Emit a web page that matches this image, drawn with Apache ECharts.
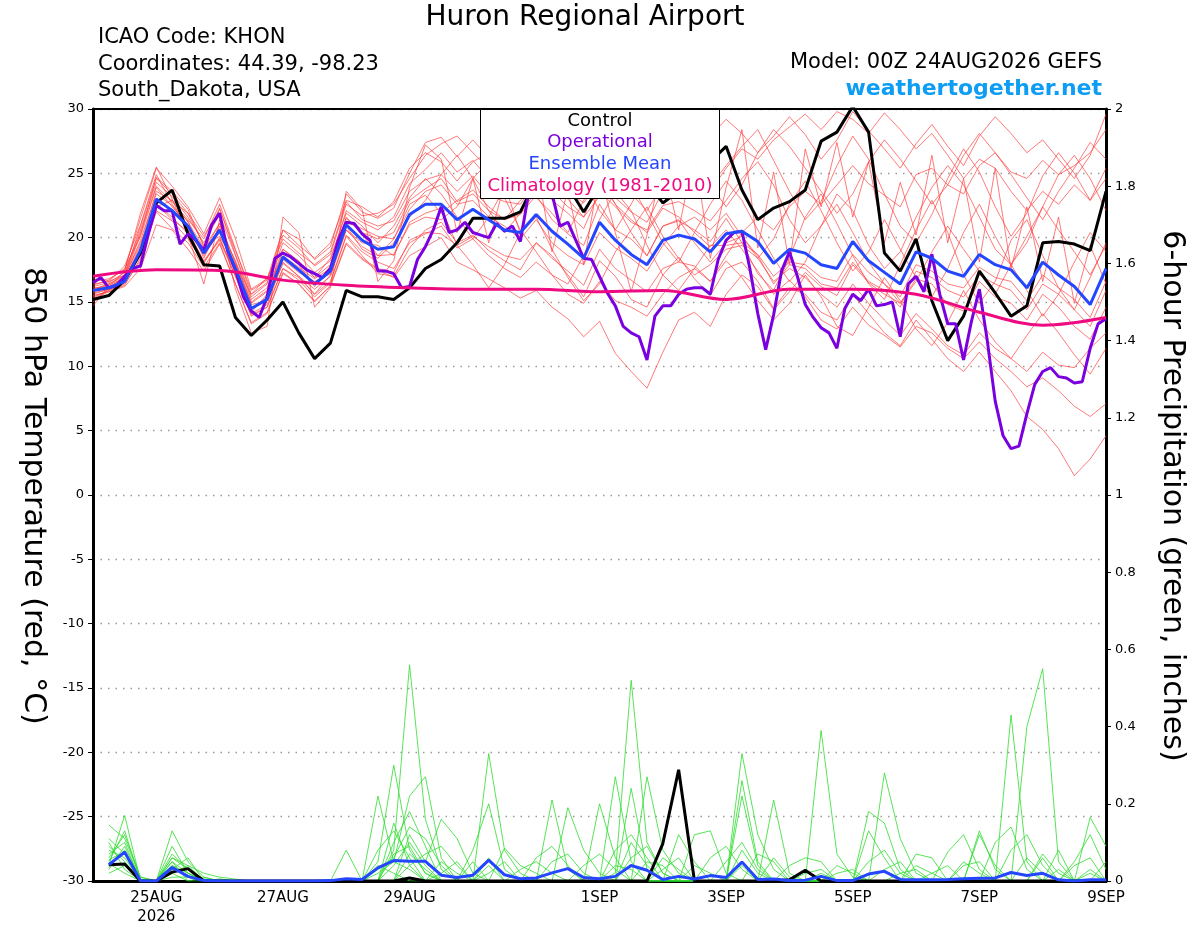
<!DOCTYPE html>
<html><head><meta charset="utf-8">
<script src="https://cdn.jsdelivr.net/npm/echarts@6.0.0/dist/echarts.min.js"></script>
<style>html,body{margin:0;padding:0;background:#fff}#c{width:1200px;height:927px}</style>
</head><body><div id="c"></div>
<script>
// ---- data (hours after 00Z 24AUG2026) ----
const STEP = 6, OP_STEP = 3, CLIM_STEP = 24;
const tickHours = [24, 72, 120, 192, 240, 288, 336, 384];
const tickLabels = ['25AUG\n2026', '27AUG', '29AUG', '1SEP', '3SEP', '5SEP', '7SEP', '9SEP'];

const controlTemp = [15.2,15.5,16.7,18.8,22.7, 23.7,20.3,17.9,17.8,13.8, 12.4,13.6,15.0,12.6,10.6, 11.8,15.9,15.4,15.4,15.2, 16.1,17.6,18.3,19.6,21.5, 21.5,21.5,22.0,24.5,25.5, 24.0,22.0,24.0,24.8,25.2, 24.3,22.7,23.6,24.6,25.9, 27.1,23.7,21.4,22.3,22.8, 23.7,27.5,28.2,30.2,28.2, 18.8,17.4,19.9,15.1,12.0, 13.9,17.4,15.7,13.9,14.7, 19.6,19.7,19.5,19.0,23.6];
const meanTemp = [15.9,16.1,16.6,19.0,23.0, 22.1,20.9,18.8,20.6,17.6, 14.5,15.2,18.5,17.5,16.4, 17.4,21.0,19.8,19.1,19.3, 21.8,22.6,22.6,21.4,22.2, 21.4,20.6,20.4,21.8,20.5, 19.5,18.4,21.2,19.8,18.7, 17.9,19.8,20.2,19.9,18.9, 20.3,20.5,19.7,18.0,19.1, 18.8,17.9,17.6,19.7,18.2, 17.3,16.4,18.9,18.4,17.4, 17.0,18.7,17.9,17.5,16.1, 18.1,17.1,16.2,14.8,17.6];
const opTemp = [16.5,16.9,16.1,16.3,17.0,17.6,17.8,20.3,22.5,22.1,
 22.1,19.5,20.3,19.8,19.0,21.0,21.9,19.0,17.5,15.4,
 14.3,13.8,15.4,18.4,18.8,18.5,18.0,17.5,17.2,16.9,
 17.6,19.8,21.2,21.1,20.3,19.8,17.4,17.4,17.2,16.1,
 16.2,18.3,19.3,20.6,22.4,20.4,20.6,21.2,20.4,20.2,
 20.0,21.1,20.5,20.9,19.7,23.3,24.6,25.2,23.4,20.9,
 21.2,19.8,18.4,18.3,17.0,15.7,14.7,13.1,12.6,12.3,
 10.5,13.9,14.7,14.7,15.6,16.0,16.1,16.1,15.6,18.3,
 19.8,20.4,20.5,17.6,14.1,11.3,14.0,17.4,18.9,17.0,
 14.8,13.8,13.0,12.6,11.4,14.5,15.6,15.1,16.0,14.7,
 14.8,15.0,12.3,16.4,17.0,15.8,18.7,15.6,13.3,13.3,
 10.5,13.5,16.0,12.0,7.3,4.6,3.6,3.8,6.3,8.6,
 9.6,9.9,9.2,9.1,8.7,8.8,11.4,13.3,13.7];
const climTemp = [17.0,17.5,17.45,16.7,16.3,16.1,16.0,16.0,15.8,15.9,15.2,16.0,16.0,15.6,14.2,13.2,13.8];

const tempMembers = [
 [16.2,16.5,17.3,20.6,24.3, 23.2,21.6,19.6,21.8,18.6, 15.2,16.1,19.6,18.6,17.3, 18.2,22.1,21.2,20.6,21.6, 24.2,25.3,26.6,25.1,26.0, 24.6,23.0,24.4,26.1,24.1, 23.0,21.6,24.5,23.1,22.0, 21.2,23.6,24.1,25.6,24.0, 25.6,27.1,28.4,26.0,23.6, 21.4,22.8,25.6,27.9,26.1, 23.4,20.9,19.6,21.8,24.6, 26.9,25.1,22.4,20.1,21.9, 24.8,26.6,25.0,22.9,25.4],
 [15.4,15.9,16.4,18.2,22.1, 21.3,19.9,18.1,19.8,17.0, 13.9,14.6,17.6,16.7,15.4, 16.5,20.1,18.6,17.2,17.0, 19.2,20.6,21.2,19.6,20.2, 19.0,18.2,17.5,19.6,18.6, 17.1,15.4,18.2,17.0,15.2, 14.6,17.1,18.5,16.8,15.5, 17.6,18.1,16.6,14.5,16.1, 15.6,14.2,13.6,15.6,14.1, 12.6,11.6,13.6,12.1,10.6, 9.6,11.1,9.6,8.1,6.1, 5.1,3.6,1.5,2.8,4.6],
 [16.6,16.8,17.5,21.5,25.4, 24.0,22.4,20.3,23.1,19.9, 16.0,16.8,20.6,19.9,18.3, 19.3,23.4,22.0,21.5,22.3, 25.0,27.4,27.8,26.3,27.6, 26.2,27.5,28.9,27.3,26.0, 27.8,28.8,26.4,27.9,29.3, 28.0,26.6,28.4,29.6,27.9, 29.2,28.1,26.6,27.9,29.4, 28.0,26.1,27.6,29.8,28.3, 26.9,25.4,27.3,28.8,27.1, 25.6,27.9,29.4,28.1,26.6, 27.6,26.1,24.6,26.4,29.6],
 [15.2,15.8,16.2,17.6,21.0, 20.6,19.1,17.4,19.5,16.4, 13.3,14.1,17.2,16.4,15.1, 16.2,19.5,18.3,17.5,16.9, 18.6,19.3,20.0,18.1,17.5, 16.8,16.1,15.3,15.9,14.6, 13.7,12.3,13.5,11.0,9.6, 8.3,11.1,13.6,14.2,13.1, 15.6,17.1,16.2,14.4,15.8, 17.3,16.2,15.5,17.9,16.5, 15.6,14.9,16.8,16.4,14.8, 14.3,16.6,15.4,14.9,13.6, 15.6,14.6,13.1,12.1,14.6],
 [15.8,16.3,16.9,19.8,23.4, 22.5,21.3,18.4,20.9,17.2, 14.2,15.6,18.9,17.9,16.2, 17.8,21.6,20.3,18.6,19.9, 22.6,23.3,21.9,22.9,23.7, 22.4,21.4,21.8,23.3,21.4, 20.3,19.4,22.6,20.6,19.9, 18.6,20.9,21.3,20.6,19.7, 21.5,19.6,17.2,15.9,18.4, 21.6,23.4,21.1,18.6,16.4, 15.2,17.9,20.6,22.9,20.4, 17.1,14.9,16.6,19.8,21.4, 18.6,16.1,14.4,16.9,19.6],
 [16.0,16.4,17.0,20.2,24.7, 23.6,22.2,19.3,22.3,18.7, 15.4,16.4,20.2,19.2,17.8, 18.7,22.6,21.7,21.9,22.6, 24.6,26.4,27.3,27.9,26.6, 25.4,24.6,26.2,27.4,25.2, 23.6,22.7,24.4,22.6,21.4, 20.4,22.3,21.6,20.4,19.3, 20.6,19.1,17.4,15.6,16.7, 15.4,13.6,12.9,14.6,13.2, 12.4,11.5,13.1,12.6,11.4, 10.6,11.9,10.6,9.6,8.4, 9.1,8.1,6.9,6.1,7.1],
 [15.6,16.0,16.5,18.6,22.6, 21.6,20.3,18.0,20.0,17.0, 14.0,14.6,17.6,16.9,15.6, 16.6,20.2,18.9,18.1,17.6, 19.6,20.3,20.9,19.2,19.9, 18.6,17.6,16.9,18.1,17.1, 15.6,14.9,16.6,15.1,14.6, 13.9,15.6,16.9,17.6,16.6, 18.6,20.4,21.6,20.6,22.4, 23.6,22.6,24.1,25.6,24.2, 23.3,22.4,24.9,25.4,24.1, 23.4,25.6,26.6,25.1,24.6, 26.0,24.9,25.6,26.6,28.4],
 [16.4,16.6,17.1,20.9,24.6, 23.4,21.9,20.1,22.2,19.0, 15.9,16.7,19.9,18.8,17.9, 18.9,22.8,21.4,20.9,21.3, 23.6,24.5,24.9,23.6,24.8, 23.3,22.8,22.6,24.3,22.9, 21.9,20.7,23.6,22.4,21.2, 20.6,22.5,22.8,22.1,21.3, 22.9,24.6,25.9,24.1,21.4, 19.6,20.9,23.4,22.1,19.4, 17.6,18.9,21.6,23.9,25.6, 24.1,21.6,19.1,17.9,19.6, 22.4,24.9,26.4,24.6,22.1],
 [15.5,15.8,16.3,18.4,22.0, 20.7,19.6,17.7,19.6,16.4, 13.4,14.2,17.3,16.4,15.0, 16.3,19.6,18.4,17.6,17.3, 19.8,20.4,20.3,19.4,20.1, 19.3,18.6,18.3,19.6,18.4, 17.4,16.3,19.1,17.6,16.7, 15.8,17.6,18.1,17.8,16.6, 18.2,16.9,15.1,13.6,14.9, 17.1,15.4,13.1,12.4,14.6, 16.9,15.1,12.9,11.6,13.4, 15.9,13.6,11.9,10.6,12.4, 14.1,12.6,10.9,9.4,11.4],
 [14.7,16.2,17.4,21.9,25.5, 23.0,20.2,16.4,21.4,16.0, 12.6,13.1,21.6,20.4,14.6, 16.1,23.6,22.2,16.6,18.2, 23.9,27.2,26.1,20.4,24.6, 19.6,24.2,20.3,25.8,18.9, 23.7,17.9,25.1,20.4,15.8, 20.2,25.9,20.6,26.6,18.4, 23.9,28.4,19.2,25.1,17.9, 26.9,22.4,27.4,21.6,25.9, 19.6,24.3,20.2,26.4,19.6, 24.6,18.1,25.4,17.6,22.4, 16.6,21.6,14.9,19.4,16.4],
 [16.1,16.2,16.8,19.4,23.6, 22.9,21.2,19.2,21.1,18.1, 14.9,15.8,19.1,18.2,16.9, 17.9,21.5,20.4,19.9,20.4, 22.9,23.8,24.6,22.8,23.4, 22.1,21.4,22.9,24.1,23.6, 22.4,21.6,23.2,24.6,23.4, 22.1,24.1,25.6,24.9,23.6, 25.4,26.9,26.1,27.6,28.6, 29.6,28.4,29.8,29.2,28.1, 29.7,28.4,26.9,28.1,26.4, 24.6,26.1,25.4,23.6,22.1, 23.6,22.6,24.1,22.9,24.6],
 [15.7,16.0,16.7,18.9,22.8, 22.2,20.6,18.6,20.4,17.6, 14.4,15.4,18.3,17.3,16.6, 17.2,20.6,19.6,19.4,18.6, 21.2,21.9,22.3,19.4,17.9, 16.1,17.9,20.4,21.6,19.1, 16.9,15.1,16.4,18.9,20.6, 22.4,20.1,18.4,17.1,17.9, 19.1,19.4,18.4,16.6,17.6, 16.9,15.6,14.6,16.4,14.9, 13.6,12.4,14.1,12.9,11.6, 10.9,12.6,11.4,10.6,9.6, 11.1,10.1,9.9,11.4,12.6],
 [16.3,16.7,17.6,20.1,23.9, 22.4,21.0,19.0,20.7,18.2, 15.0,15.9,18.6,17.7,16.8, 17.6,21.2,20.7,20.1,19.9, 22.2,23.6,24.1,22.6,22.9, 21.6,20.9,19.9,21.4,19.6, 18.6,17.9,20.4,19.2,18.4, 17.4,19.4,20.9,21.6,20.6, 21.9,20.1,18.4,19.9,22.6, 24.4,22.1,19.6,17.4,18.9, 21.4,19.1,16.9,15.4,17.6, 20.4,22.6,20.1,17.9,15.9, 13.9,15.6,18.1,20.4,18.9],
 [15.9,16.4,17.1,20.4,24.0, 22.8,21.4,19.9,22.6,19.1, 15.6,16.5,20.6,19.4,18.4, 19.6,22.9,22.4,21.6,22.8, 25.4,26.6,25.9,24.4,25.9, 26.6,27.9,26.4,28.4,27.6, 28.6,26.4,24.9,22.6,20.4, 18.6,20.9,21.4,19.6,18.1, 19.6,20.1,18.6,16.4,17.9, 17.6,16.4,16.1,18.1,16.6, 15.9,14.6,17.4,16.9,15.9, 15.4,17.1,16.4,15.9,14.4, 16.4,15.6,14.4,13.1,15.9],
 [15.3,15.9,16.6,19.2,22.6, 21.4,20.5,18.2,19.9,17.3, 14.1,14.8,18.1,17.0,16.0, 17.0,20.6,19.3,18.6,18.7, 21.0,21.6,21.4,22.4,24.6, 25.9,23.1,20.6,18.9,17.1, 16.4,18.6,21.4,23.6,22.1, 19.4,17.1,15.9,17.6,19.4, 19.4,19.6,18.7,17.0,18.1, 17.9,16.9,16.6,18.7,17.3, 16.4,15.4,17.9,17.4,16.4, 16.1,17.7,16.9,16.6,15.1, 17.1,16.1,15.2,13.8,16.6],
 [15.0,16.1,17.0,19.6,22.4, 22.9,21.9,19.4,20.1,17.9, 15.6,16.9,19.1,18.1,16.9, 18.4,21.9,20.9,19.6,20.9, 23.1,24.6,23.4,21.6,19.9, 21.6,23.9,25.4,23.1,21.9, 20.4,22.9,24.9,26.4,24.1, 21.9,19.6,18.1,20.4,22.6, 24.4,22.9,20.6,18.4,16.6, 18.1,20.9,22.6,20.4,18.1, 16.4,14.9,16.6,18.9,20.9, 19.1,17.4,15.6,17.9,20.1, 22.4,20.6,18.9,17.1,19.4],
 [16.8,16.6,17.8,21.0,24.9, 22.6,20.6,18.9,21.1,18.0, 14.8,15.1,18.0,17.0,15.6, 17.1,20.9,19.1,18.4,19.6, 21.6,22.9,24.9,26.4,24.6, 22.1,20.4,21.9,23.6,25.4, 26.6,24.4,22.1,20.6,22.6, 24.9,26.9,28.1,26.4,24.1, 22.4,24.1,26.6,28.4,27.1, 25.4,23.6,21.9,23.4,25.9, 27.6,26.1,24.4,22.6,24.1, 26.4,28.1,26.6,24.9,23.1, 21.4,23.6,25.4,27.4,26.1]
];

const controlPrecip = [null,0.042,0.044,0,0, 0.023,0.032,0,0,0, 0,0,0,0,0, 0,0,0,0,0, 0.008,0,0,0,0, 0,0,0,0,0, 0,0,0,0,0, 0,0.097,0.288,0,0, 0,0,0,0,0.003, 0.028,0,0,0,0, 0,0,0,0,0, 0,0,0,0,0, 0,0,0,0,0];
const meanPrecip = [null,0.042,0.075,0,0, 0.035,0.012,0.001,0,0, 0,0,0,0,0, 0.001,0.006,0.004,0.034,0.053, 0.051,0.051,0.015,0.009,0.015, 0.054,0.016,0.006,0.008,0.021, 0.032,0.009,0.006,0.012,0.04, 0.028,0.004,0.012,0.005,0.014, 0.009,0.049,0.004,0.005,0.001, 0.002,0.012,0.001,0.001,0.018, 0.025,0.004,0.003,0.003,0.004, 0.006,0.007,0.008,0.022,0.014, 0.02,0.003,0,0.003,0.003];
const precipMembers = [
 [null,.06,.12,.01,0, .04,.02,.005,0,0, 0,0,0,0,0, 0,0,0,.05,.30, .08,.02,0,0,0, .04,0,0,0,0, 0,0,0,.02,.52, .10,.02,0,0,0, 0,.05,0,0,0, 0,.02,0,0,0, 0,0,0,0,0, 0,0,0,.43,.05, 0,0,0,.02,0],
 [null,.04,.17,0,0, .13,.05,.01,0,0, 0,0,0,0,0, 0,0,0,0,.08, .56,.16,.03,0,0, .33,.08,.02,0,0, 0,0,0,.27,.05, 0,0,0,0,0, 0,.33,.12,.03,0, 0,0,0,0,0, .28,.11,.02,0,0, 0,0,0,0,0, .06,0,0,0,0],
 [null,.09,.05,0,0, .07,.03,0,.005,0, 0,0,0,0,0, 0,0,0,.22,.05, .22,.27,.06,0,0, 0,0,0,0,.21, .03,0,0,0,0, .27,.08,.02,0,0, 0,0,0,0,0, 0,.39,.07,.01,0, 0,0,0,0,0, 0,.13,.03,0,0, 0,0,0,.165,.09],
 [null,.03,.09,.005,0, .02,.04,0,0,0, 0,0,0,0,0, 0,.08,0,0,0, .12,.05,.16,.11,.02, 0,0,0,0,0, .19,.08,.02,0,.24, .03,0,0,0,0, 0,.26,.05,0,0, 0,0,0,0,.18, .15,.03,0,0,0, 0,0,0,0,.40, .55,.05,0,0,0],
 [null,.11,.07,0,0, .05,0,.01,0,0, 0,0,0,0,0, 0,0,0,.08,.13, .06,0,0,0,.08, .20,.03,0,0,0, 0,0,.20,.06,0, 0,0,0,.12,.13, .02,0,0,.21,.02, 0,0,0,0,0, 0,0,0,0,.075, .12,.03,0,0,0, 0,0,0,0,0],
 [null,.02,.04,0,0, .09,.02,0,0,0, 0,0,0,0,0, 0,0,0,0,.10, .18,.09,0,0,0, 0,.085,.04,.02,0, 0,0,0,0,0, 0,0,.12,.05,0, 0,.22,.04,0,0, .03,0,0,0,.13, .06,0,.07,.06,0, 0,0,0,0,0, 0,0,.04,.06,0],
 [null,.07,.10,0,0, .03,.06,0,.005,0, 0,0,0,0,0, 0,0,0,.03,.06, .14,.11,.04,0,0, 0,0,0,.06,.09, .04,0,0,0,0, .05,.04,0,0,.06, .09,.03,0,0,0, 0,0,.02,.03,0, 0,0,0,0,0, 0,.12,.04,0,0, 0,.08,0,0,0],
 [null,.05,.13,0,0, .01,.01,0,0,0, 0,0,0,0,0, 0,0,0,0,0, .04,.07,.09,.04,0, .06,0,0,0,0, 0,0,0,.08,.12, .06,0,0,0,0, 0,0,.07,.05,0, 0,0,0,0,0, .03,.05,0,0,0, 0,0,0,.08,.12, .04,0,0,0,0],
 [null,.08,.06,0,0, .06,.03,0,0,0, 0,0,0,0,0, 0,0,0,0,.04, .10,.04,0,0,.05, 0,0,0,0,0, 0,.04,.07,.03,0, 0,.03,.06,0,0, 0,0,0,0,.04, .06,.05,0,0,0, 0,0,0,.02,.04, 0,0,0,0,0, 0,0,.05,.12,.03],
 [null,.10,.03,0,0, .02,0,0,0,0, 0,0,0,0,0, 0,0,0,.02,.05, .03,0,.05,.02,0, 0,0,.03,.05,.02, 0,0,0,0,.10, .04,0,0,0,0, .05,.10,.03,0,0, 0,0,0,0,.05, .08,.02,0,0,0, 0,0,.10,.14,.03, 0,0,0,0,0],
 [null,.035,.08,0,0, .05,.02,0,0,0, 0,0,0,0,0, 0,0,0,0,0, .07,.03,0,0,0, .02,.05,0,0,0, 0,0,0,.04,.03, 0,0,0,0,0, 0,0,0,0,0, 0,0,.04,.02,0, 0,0,0,0,0, .04,.05,0,0,0, 0,.03,0,0,.05],
 [null,.145,.11,.01,0, .04,.01,0,0,0, 0,0,0,0,0, 0,0,0,0,.07, .09,.02,0,0,0, 0,0,0,0,0, 0,0,0,0,0, 0,.06,.03,0,0, 0,.08,.02,0,0, 0,0,0,0,0, 0,0,.04,.02,0, 0,0,0,0,0, .07,.02,0,0,0],
 [null,.045,.02,0,0, .06,.04,.02,.01,.005, 0,0,0,0,0, 0,0,0,.04,.02, 0,0,0,0,0, 0,0,0,0,.05, .07,.02,0,0,0, 0,0,0,.04,.02, 0,0,0,0,0, .02,.03,0,0,0, 0,0,0,0,0, .05,.02,0,0,0, 0,0,0,.03,0],
 [null,.055,.075,0,0, .03,.03,.005,0,0, 0,0,0,0,0, 0,0,0,0,.15, .04,0,.02,.05,0, 0,0,0,0,0, 0,0,0,0,.06, .09,.02,0,0,0, 0,.04,0,.06,.01, 0,0,0,0,0, 0,.02,.03,0,0, 0,0,0,0,.06, .02,0,0,0,0]
];

// ---- chart ----
const FONT = '"DejaVu Sans", sans-serif';
const C_RED = '#ff3a3a', C_GREEN = '#2fdc2f', C_BLUE = '#2446ff', C_PURPLE = '#7a00e0', C_PINK = '#ee0a80';
function pairs(arr, step) { return arr.map((v, i) => [i * step, v]); }
function line(data, yIdx, color, width, z, extra) {
  return Object.assign({
    type: 'line', data: data, xAxisIndex: 0, yAxisIndex: yIdx, symbol: 'none', showSymbol: false,
    color: color, lineStyle: { color: color, width: width }, z: z, silent: true, animation: false
  }, extra || {});
}
const series = [];
tempMembers.forEach(m => series.push(line(pairs(m, STEP), 0, C_RED, 0.8, 1, { lineStyle: { color: C_RED, width: 0.8, opacity: 0.85 } })));
precipMembers.forEach(m => series.push(line(pairs(m, STEP), 1, C_GREEN, 0.8, 1)));
series.push(line(pairs(controlTemp, STEP), 0, '#000', 3, 3));
series.push(line(pairs(controlPrecip, STEP), 1, '#000', 3, 3));
series.push(line(pairs(opTemp, OP_STEP), 0, C_PURPLE, 3, 4));
series.push(line(pairs(meanTemp, STEP), 0, C_BLUE, 3, 5));
series.push(line(pairs(meanPrecip, STEP), 1, C_BLUE, 3, 5));
series.push(line(pairs(climTemp, CLIM_STEP), 0, C_PINK, 3, 6, { smooth: 0.35 }));

const chart = echarts.init(document.getElementById('c'), null, { renderer: 'canvas' });
chart.setOption({
  animation: false,
  backgroundColor: '#fff',
  grid: { left: 93, right: 94, top: 109, bottom: 44, containLabel: false },
  xAxis: [
    { type: 'value', min: 0, max: 384, interval: 24, position: 'bottom',
      axisLine: { show: true, onZero: false, lineStyle: { color: '#000', width: 3 } },
      axisTick: { show: false }, splitLine: { show: false },
      axisLabel: { color: '#000', fontSize: 15, fontFamily: FONT, margin: 8, lineHeight: 19,
        showMinLabel: true, showMaxLabel: true,
        formatter: v => { const k = tickHours.indexOf(v); return k >= 0 ? tickLabels[k] : ''; } } },
    { type: 'value', min: 0, max: 384, position: 'top',
      axisLine: { show: true, onZero: false, lineStyle: { color: '#000', width: 2 } },
      axisTick: { show: false }, axisLabel: { show: false }, splitLine: { show: false } }
  ],
  yAxis: [
    { type: 'value', min: -30, max: 30, interval: 5, position: 'left',
      axisLine: { show: true, onZero: false, lineStyle: { color: '#000', width: 3 } },
      axisTick: { show: true, length: 5, lineStyle: { color: '#000', width: 1 } },
      axisLabel: { color: '#000', fontSize: 13, fontFamily: FONT, margin: 9 },
      splitLine: { show: true, lineStyle: { color: '#9a9a9a', width: 1.3, type: [1.5, 6] } } },
    { type: 'value', min: 0, max: 2, interval: 0.2, position: 'right',
      axisLine: { show: true, onZero: false, lineStyle: { color: '#000', width: 3 } },
      axisTick: { show: true, length: 5, lineStyle: { color: '#000', width: 1 } },
      axisLabel: { color: '#000', fontSize: 13, fontFamily: FONT, margin: 9 },
      splitLine: { show: false } }
  ],
  series: series,
  graphic: [
    { type: 'text', x: 585, y: 18, z: 100, style: { text: 'Huron Regional Airport', font: '28px ' + FONT, fill: '#000', align: 'center', verticalAlign: 'middle' } },
    { type: 'text', x: 98, y: 38, z: 100, style: { text: 'ICAO Code: KHON', font: '21px ' + FONT, fill: '#000', align: 'left', verticalAlign: 'middle' } },
    { type: 'text', x: 98, y: 65, z: 100, style: { text: 'Coordinates: 44.39, -98.23', font: '21px ' + FONT, fill: '#000', align: 'left', verticalAlign: 'middle' } },
    { type: 'text', x: 98, y: 91, z: 100, style: { text: 'South_Dakota, USA', font: '21px ' + FONT, fill: '#000', align: 'left', verticalAlign: 'middle' } },
    { type: 'text', x: 1102, y: 63, z: 100, style: { text: 'Model: 00Z 24AUG2026 GEFS', font: '21px ' + FONT, fill: '#000', align: 'right', verticalAlign: 'middle' } },
    { type: 'text', x: 1102, y: 89, z: 100, style: { text: 'weathertogether.net', font: 'bold 22px ' + FONT, fill: '#0d9df5', align: 'right', verticalAlign: 'middle' } },
    { type: 'text', x: 33, y: 496, rotation: -Math.PI / 2, z: 100, style: { text: '850 hPa Temperature (red, °C)', font: '30px ' + FONT, fill: '#000', align: 'center', verticalAlign: 'middle' } },
    { type: 'text', x: 1172, y: 496, rotation: -Math.PI / 2, z: 100, style: { text: '6-hour Precipitation (green, inches)', font: '30px ' + FONT, fill: '#000', align: 'center', verticalAlign: 'middle' } },
    { type: 'rect', z: 100, shape: { x: 480.5, y: 109.5, width: 239, height: 89 }, style: { fill: '#fff', stroke: '#000', lineWidth: 1 } },
    { type: 'text', x: 600, y: 121, z: 101, style: { text: 'Control', font: '18px ' + FONT, fill: '#000', align: 'center', verticalAlign: 'middle' } },
    { type: 'text', x: 600, y: 142.5, z: 101, style: { text: 'Operational', font: '18px ' + FONT, fill: C_PURPLE, align: 'center', verticalAlign: 'middle' } },
    { type: 'text', x: 600, y: 164, z: 101, style: { text: 'Ensemble Mean', font: '18px ' + FONT, fill: C_BLUE, align: 'center', verticalAlign: 'middle' } },
    { type: 'text', x: 600, y: 186, z: 101, style: { text: 'Climatology (1981-2010)', font: '18px ' + FONT, fill: C_PINK, align: 'center', verticalAlign: 'middle' } }
  ]
});
</script>
</body></html>
